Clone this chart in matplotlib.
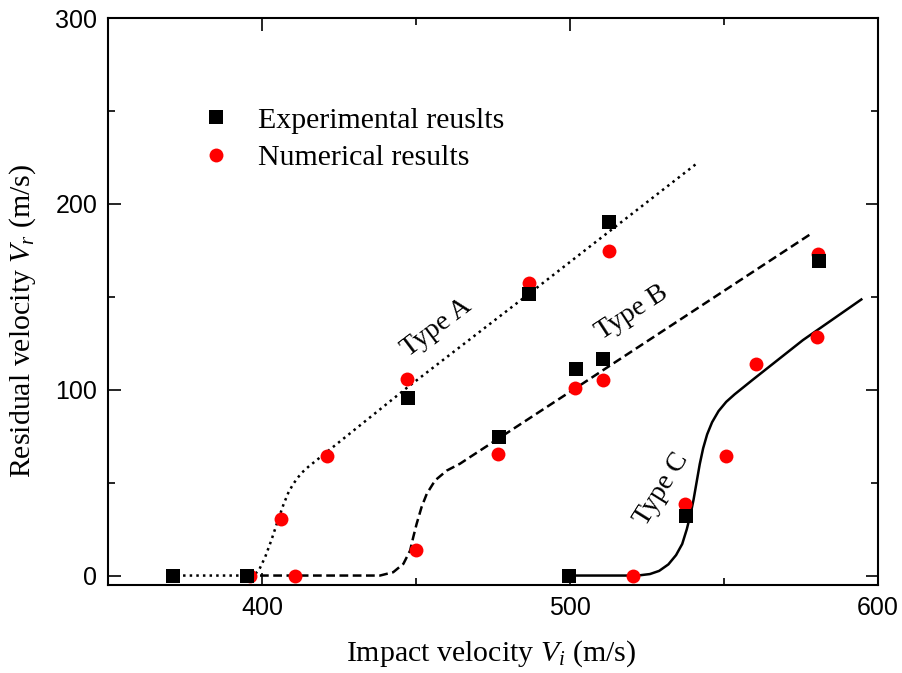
import numpy as np
import matplotlib
matplotlib.use('Agg')
import matplotlib.pyplot as plt
from matplotlib.ticker import MultipleLocator

plt.rcParams['mathtext.fontset'] = 'custom'
plt.rcParams['mathtext.rm'] = 'Liberation Serif'
plt.rcParams['mathtext.it'] = 'Liberation Serif:italic'

# experimental results (squares)
exp_v = [371, 395, 447.4, 476.9, 486.8, 499.8, 502, 510.8, 512.8, 537.8, 580.8]
exp_r = [0, 0, 95.7, 74.5, 151.7, 0, 111.3, 116.3, 190.3, 31.8, 169.1]

# numerical results (circles)
num_v = [396, 406.1, 410.8, 421.0, 447.2, 450.1, 476.7, 486.8, 501.7, 510.8,
         512.8, 520.6, 537.5, 550.6, 560.6, 580.4, 580.6]
num_r = [0, 30.3, 0, 64.1, 105.9, 13.8, 65.2, 157.6, 100.9, 105.5,
         174.5, 0, 38.6, 64.1, 114.0, 128.2, 172.9]

# fitted curves
a_v = [370, 396, 397.5, 399, 401, 403, 405, 407, 408.5, 410, 411.5, 413, 415, 418, 447, 487, 541]
a_r = [0, 0, 0.5, 3, 10, 19, 29, 38.5, 44.5, 49, 52.5, 55.5, 58.5, 62.5, 101, 152, 221.5]

b_v = [395, 438.3, 442.6, 445.9, 448.1, 449.1, 450.2, 451.8, 453.5, 456.2, 460, 464.3, 467.5, 502, 578.4]
b_r = [0, 0, 1.8, 6.3, 13.5, 20.6, 27.8, 36.8, 44, 51.2, 56.5, 60.2, 63.7, 101, 184]

c_v = [500, 522, 526, 529, 532, 534.5, 536.5, 538, 539.2, 540.2, 541.2, 542.2,
       543.3, 544.6, 546.2, 548.3, 550.8, 553.5, 556.5, 559.5, 575.7, 594.7]
c_r = [0, 0, 0.8, 2.5, 6, 11, 17, 25, 33, 41, 50.5, 60,
       68.5, 76, 82.5, 88.5, 93.5, 97.5, 101.5, 105.5, 126.7, 148.6]

fig = plt.figure(figsize=(9.02, 6.73), dpi=100)
ax = fig.add_axes([0.12, 0.131, 0.853, 0.842])

ax.plot(a_v, a_r, color='black', linestyle=':', linewidth=1.8, zorder=1)
ax.plot(b_v, b_r, color='black', linestyle=(0, (3.5, 1.8)), linewidth=1.8, zorder=1)
ax.plot(c_v, c_r, color='black', linestyle='-', linewidth=1.8, zorder=1)

ax.plot(num_v, num_r, 'o', color='red', markersize=10, markeredgewidth=0,
        label='Numerical results', zorder=2)
ax.plot(exp_v, exp_r, 's', color='black', markersize=9.5, markeredgewidth=0,
        label='Experimental reuslts', zorder=3)

ax.set_xlim(350, 600)
ax.set_ylim(-5, 300)
ax.xaxis.set_major_locator(MultipleLocator(100))
ax.xaxis.set_minor_locator(MultipleLocator(50))
ax.yaxis.set_major_locator(MultipleLocator(100))
ax.yaxis.set_minor_locator(MultipleLocator(50))
ax.tick_params(which='both', direction='in', top=True, right=True, width=1.2)
ax.tick_params(which='major', length=9, labelsize=18, pad=8)
ax.tick_params(which='minor', length=5)
for lab in ax.get_xticklabels() + ax.get_yticklabels():
    lab.set_family('Liberation Sans')
for sp in ax.spines.values():
    sp.set_linewidth(1.5)

ax.set_xlabel('Impact velocity $V_i$ (m/s)', family='Liberation Serif', fontsize=21.5)
ax.set_ylabel('Residual velocity $V_r$ (m/s)', family='Liberation Serif', fontsize=21.5)
ax.xaxis.set_label_coords(0.497, -0.095)
ax.yaxis.set_label_coords(-0.091, 0.466)

ax.text(456.8, 133.5, 'Type A', family='Liberation Serif', fontsize=20,
        rotation=37, ha='center', va='center')
ax.text(520.1, 141.6, 'Type B', family='Liberation Serif', fontsize=20,
        rotation=33, ha='center', va='center')
ax.text(529.9, 46.3, 'Type C', family='Liberation Serif', fontsize=20,
        rotation=58, ha='center', va='center')

h, l = ax.get_legend_handles_labels()
ax.legend(h[::-1], l[::-1], loc='upper left', bbox_to_anchor=(0.086, 0.891),
          frameon=False, prop={'family': 'Liberation Serif', 'size': 21.5},
          handlelength=1.0, handletextpad=0.9, labelspacing=0.36)

fig.savefig('out.png', dpi=100)
